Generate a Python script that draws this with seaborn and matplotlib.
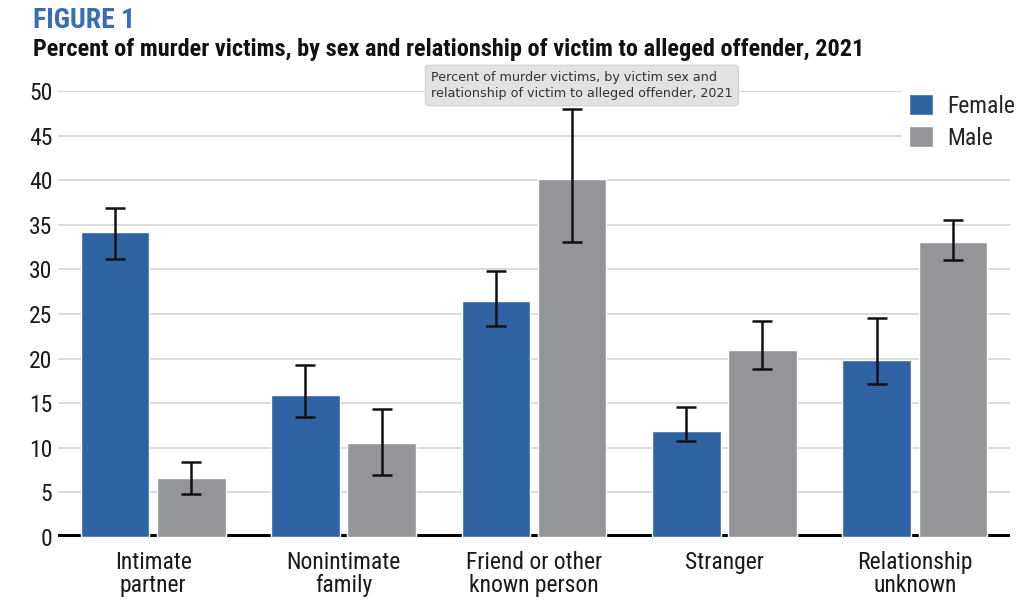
import matplotlib
matplotlib.use("Agg")
import matplotlib.pyplot as plt
import seaborn as sns
import pandas as pd
from matplotlib import font_manager

# data
relationships = [
    "Intimate\npartner",
    "Nonintimate\nfamily",
    "Friend or other\nknown person",
    "Stranger",
    "Relationship\nunknown",
]
sexes = ["Female", "Male"]
female_pct = [34.2, 15.9, 26.5, 11.9, 19.8]
female_low = [31.2, 13.5, 23.7, 10.8, 17.2]
female_high = [36.9, 19.3, 29.8, 14.6, 24.6]
male_pct = [6.6, 10.5, 40.1, 21.0, 33.1]
male_low = [4.8, 7.0, 33.1, 18.8, 31.1]
male_high = [8.4, 14.3, 48.0, 24.2, 35.5]
y_ticks = [0, 5, 10, 15, 20, 25, 30, 35, 40, 45, 50]

BLUE = "#3063a3"
GRAY = "#939598"

sns.set_theme(style="white")

# pick a condensed font, close to the report's Myriad Condensed
names = {f.name for f in font_manager.fontManager.ttflist}
narrow = "DejaVu Sans"
for cand in ["Roboto Condensed", "Fira Sans Condensed", "Open Sans Condensed",
             "Barlow Semi Condensed", "Asap Condensed"]:
    if cand in names:
        narrow = cand
        break
plt.rcParams["font.family"] = [narrow, "DejaVu Sans"]
plt.rcParams["font.stretch"] = "condensed"

df = pd.DataFrame({
    "relationship": relationships * 2,
    "sex": ["Female"] * 5 + ["Male"] * 5,
    "pct": female_pct + male_pct,
})

fig = plt.figure(figsize=(10.24, 6.06), dpi=100)
ax = fig.add_axes([0.0566, 0.1139, 0.9297, 0.7359])

sns.barplot(
    data=df, x="relationship", y="pct", hue="sex",
    order=relationships, hue_order=sexes,
    palette=[BLUE, GRAY], width=0.8, gap=0.1,
    errorbar=None, saturation=1, ax=ax, zorder=3,
)

# error bars
bounds = {"Female": (female_pct, female_low, female_high),
          "Male": (male_pct, male_low, male_high)}
for container, sex in zip(ax.containers, sexes):
    vals, lo, hi = bounds[sex]
    xs = [b.get_x() + b.get_width() / 2 for b in container]
    ax.errorbar(
        xs, vals,
        yerr=[[v - l for v, l in zip(vals, lo)], [h - v for v, h in zip(vals, hi)]],
        fmt="none", ecolor="#111111", elinewidth=1.8, capsize=7, capthick=1.8, zorder=4,
    )

ax.set_xlim(-0.5, 4.5)
ax.set_ylim(0, 50)
ax.set_yticks(y_ticks)
ax.yaxis.grid(True, color="#d4d4d4", linewidth=1.2, zorder=0)
ax.axhline(0, color="black", linewidth=5, zorder=2)
for s in ax.spines.values():
    s.set_visible(False)
ax.set_xlabel("")
ax.set_ylabel("")
ax.tick_params(axis="both", length=0, labelsize=17, colors="#1a1a1a")
ax.tick_params(axis="y", pad=4)
ax.tick_params(axis="x", pad=10)
for lab in ax.get_xticklabels():
    lab.set_linespacing(1.0)

leg = ax.legend(
    loc="upper right", bbox_to_anchor=(1.025, 1.035), frameon=True, fontsize=17,
    handlelength=1.0, handleheight=1.0, handletextpad=0.6, labelspacing=0.35,
    borderpad=0.3,
)
leg.get_frame().set_facecolor("white")
leg.get_frame().set_edgecolor("white")
leg.get_frame().set_alpha(1)

fig.text(0.032, 0.988, "FIGURE 1", color="#3a6eb2", fontsize=20, fontweight="bold",
         va="top", ha="left")
fig.text(0.032, 0.937,
         "Percent of murder victims, by sex and relationship of victim to alleged offender, 2021",
         color="#111111", fontsize=17.5, fontweight="bold", va="top", ha="left")

# hover tooltip present in the screenshot
fig.text(0.421, 0.859,
         "Percent of murder victims, by victim sex and\nrelationship of victim to alleged offender, 2021",
         family=["DejaVu Sans"], stretch="normal", fontsize=9.2, color="#333333",
         va="center", ha="left", linespacing=1.3,
         bbox=dict(boxstyle="round,pad=0.45,rounding_size=0.3", facecolor="#e2e2e2",
                   edgecolor="#cfcfcf", linewidth=0.8),
         zorder=10)

fig.savefig("out.png", dpi=100)
